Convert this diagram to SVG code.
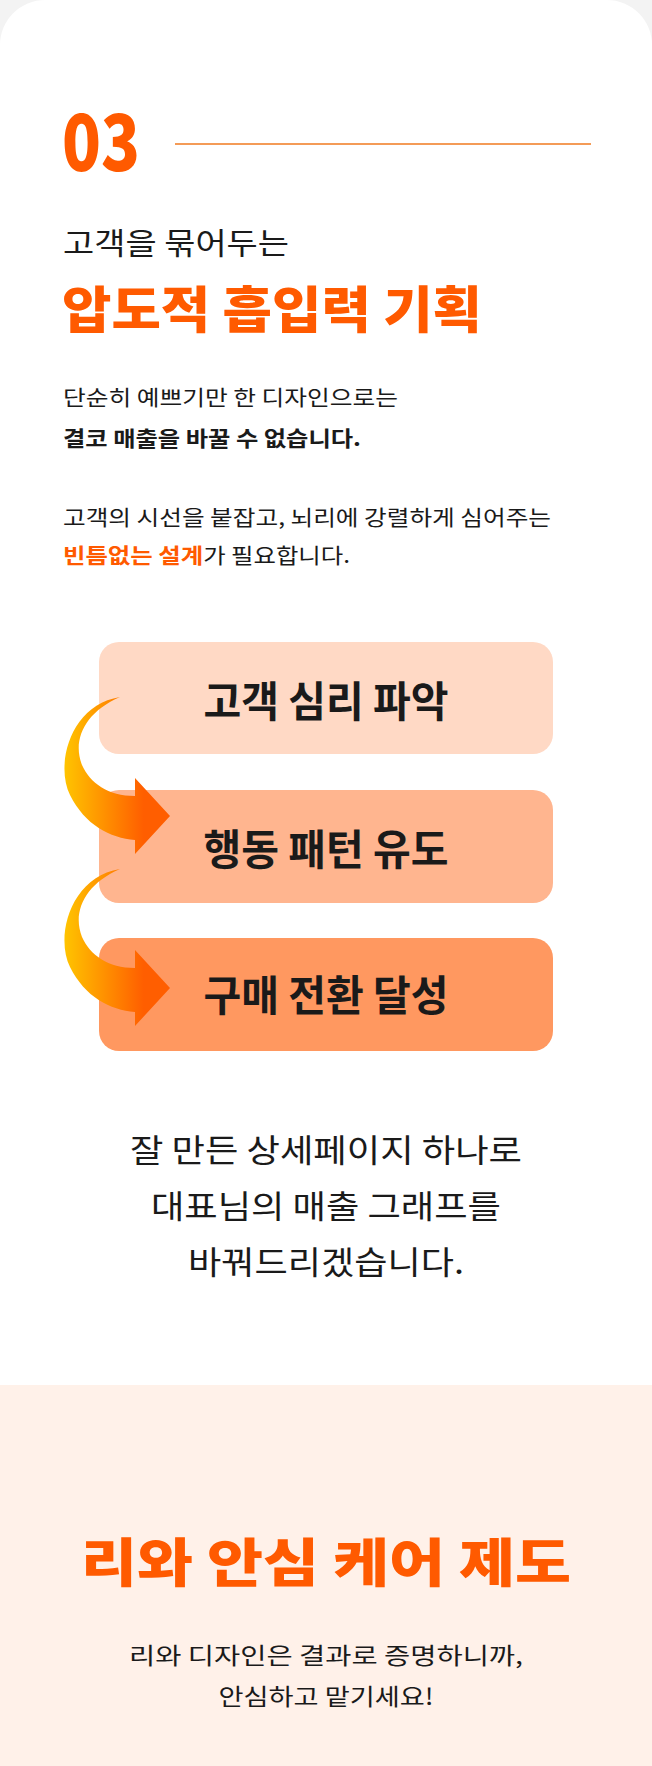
<svg xmlns="http://www.w3.org/2000/svg" width="652" height="1766" viewBox="0 0 652 1766">
<defs>
<linearGradient id="ag" x1="0" y1="0" x2="1" y2="0"><stop offset="0" stop-color="#ffc400"/><stop offset="0.75" stop-color="#ff5e00"/></linearGradient>
<style>
text{font-family:"Noto Sans CJK KR","Noto Sans",sans-serif;fill:#1a1a1a}
.or{fill:#ff5a00}
.h{font-weight:900}
.b{font-weight:700}
.c{text-anchor:middle}
.box{font-size:42px;font-weight:700}
</style>
</defs>
<rect width="652" height="1766" fill="#f3f3f3"/>
<path d="M0,1390 V45 A45,45 0 0 1 45,0 H607 A45,45 0 0 1 652,45 V1390 Z" fill="#ffffff"/>
<rect x="0" y="1385" width="652" height="381" fill="#fff1e9"/>
<g id="header">
<text x="62" y="171" class="or h" font-size="78" font-family="Roboto,'Noto Sans',sans-serif" textLength="78" lengthAdjust="spacingAndGlyphs">03</text>
<line x1="175" y1="144" x2="591" y2="144" stroke="#f07a1f" stroke-width="1.6"/>
<text x="63" y="254" font-size="30" textLength="226" lengthAdjust="spacingAndGlyphs">고객을 묶어두는</text>
<text x="62" y="328" class="or h" font-size="50" textLength="420" lengthAdjust="spacingAndGlyphs">압도적 흡입력 기획</text>
<text x="63" y="405" font-size="21" textLength="335" lengthAdjust="spacingAndGlyphs">단순히 예쁘기만 한 디자인으로는</text>
<text x="63" y="446" font-size="21" class="b" textLength="298" lengthAdjust="spacingAndGlyphs">결코 매출을 바꿀 수 없습니다.</text>
<text x="63" y="525" font-size="21" textLength="488" lengthAdjust="spacingAndGlyphs">고객의 시선을 붙잡고, 뇌리에 강렬하게 심어주는</text>
<text x="63" y="563" font-size="21" textLength="287" lengthAdjust="spacingAndGlyphs"><tspan class="or b">빈틈없는 설계</tspan>가 필요합니다.</text>
</g>
<g id="node1"><rect x="99" y="642" width="454" height="112" rx="20" fill="#ffd9c5"/><text x="326" y="717" class="box c" textLength="245" lengthAdjust="spacingAndGlyphs">고객 심리 파악</text></g>
<g id="node2"><rect x="99" y="790" width="454" height="113" rx="20" fill="#ffb58f"/><text x="326" y="865" class="box c" textLength="245" lengthAdjust="spacingAndGlyphs">행동 패턴 유도</text></g>
<g id="node3"><rect x="99" y="938" width="454" height="113" rx="20" fill="#ff9860"/><text x="326" y="1011" class="box c" textLength="245" lengthAdjust="spacingAndGlyphs">구매 전환 달성</text></g>
<g id="connectors" fill="url(#ag)">
<path d="M120,697 C70,705 55,765 70,795 C85,825 110,838 135,840 L135,854 L170,816 L135,778 L135,796 C108,796 90,783 82,765 C72,740 85,712 120,697 Z"/>
<path d="M120,869 C70,877 55,937 70,967 C85,997 110,1010 135,1012 L135,1026 L170,988 L135,950 L135,968 C108,968 90,955 82,937 C72,912 85,884 120,869 Z"/>
</g>
<g id="closing">
<text x="326" y="1162" font-size="32" class="c" textLength="392" lengthAdjust="spacingAndGlyphs">잘 만든 상세페이지 하나로</text>
<text x="326" y="1218" font-size="32" class="c" textLength="350" lengthAdjust="spacingAndGlyphs">대표님의 매출 그래프를</text>
<text x="326" y="1274" font-size="32" class="c" textLength="276" lengthAdjust="spacingAndGlyphs">바꿔드리겠습니다.</text>
</g>
<g id="care">
<text x="326" y="1582" class="or h c" font-size="52" textLength="490" lengthAdjust="spacingAndGlyphs">리와 안심 케어 제도</text>
<text x="326" y="1664" font-size="23" class="c" textLength="394" lengthAdjust="spacingAndGlyphs">리와 디자인은 결과로 증명하니까,</text>
<text x="326" y="1705" font-size="23" class="c" textLength="215" lengthAdjust="spacingAndGlyphs">안심하고 맡기세요!</text>
</g>
</svg>
